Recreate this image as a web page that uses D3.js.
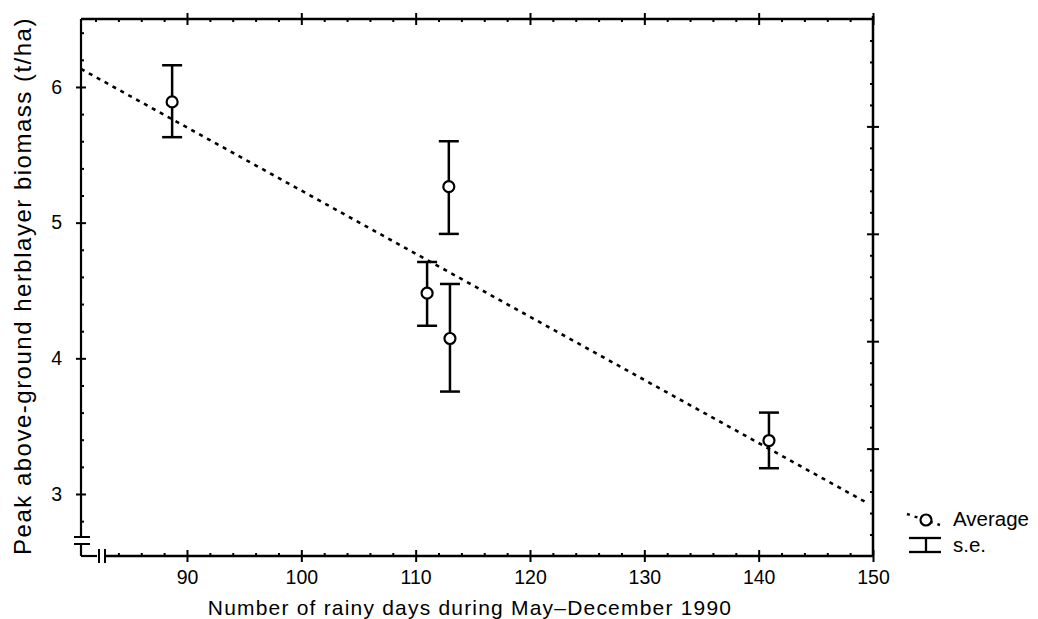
<!DOCTYPE html>
<html>
<head>
<meta charset="utf-8">
<script src="https://d3js.org/d3.v7.min.js"></script>
<style>
  body { margin: 0; background: #fff; }
  text { font-family: "Liberation Sans", Arial, sans-serif; fill: #000; }
</style>
</head>
<body>
<script>
// values
const rainyDays   = [88.7, 111.0, 112.9, 113.0, 140.9];
const biomassMean = [5.89, 4.48, 5.265, 4.146, 3.394];
const seUpper     = [6.16, 4.71, 5.60, 4.548, 3.60];
const seLower     = [5.63, 4.24, 4.917, 3.755, 3.19];
const fitDays     = [80.73, 149.3];
const fitBiomass  = [6.133, 2.943];
const xTicks = [90, 100, 110, 120, 130, 140, 150];
const yTicks = [3, 4, 5, 6];

const W = 1038, H = 619;
const pLeft = 81, pRight = 873, pTop = 19, pBottom = 556;

const svg = d3.select("body").append("svg")
    .attr("width", W).attr("height", H);

const x = d3.scaleLinear().domain([80.73, 150]).range([pLeft, pRight]);
const y = d3.scaleLinear().domain([2.543, 6.501]).range([pBottom, pTop]);
// unlabelled scale of the right-hand axis
const yR = d3.scaleLinear().domain([0, 5]).range([pBottom, pTop]);

const ink = "#000";

function seg(x1, y1, x2, y2, w) {
  return svg.append("line").attr("x1", x1).attr("y1", y1).attr("x2", x2).attr("y2", y2)
      .attr("stroke", ink).attr("stroke-width", w);
}

// frame lines
seg(pLeft, pTop, pRight, pTop, 2.5);
seg(pRight, pTop - 3, pRight, pBottom, 2.5);
// left axis, broken near the bottom
seg(pLeft, pTop, pLeft, pBottom - 19, 2.2);
seg(pLeft - 7, pBottom - 19, pLeft + 9, pBottom - 19, 2);
seg(pLeft - 7, pBottom - 12, pLeft + 9, pBottom - 12, 2);
seg(pLeft, pBottom - 12, pLeft, pBottom, 2.2);
// bottom axis, broken near the left
seg(pLeft, pBottom, pLeft + 16, pBottom, 2.2);
seg(pLeft + 18, pBottom - 7, pLeft + 18, pBottom + 7, 2);
seg(pLeft + 24, pBottom - 7, pLeft + 24, pBottom + 7, 2);
seg(pLeft + 24, pBottom, pRight, pBottom, 2.5);

function range2(a, b, s) { return d3.range(a, b + 1e-9, s).map(v => +v.toFixed(2)); }
const xMinorBottom = range2(84, 148, 2).filter(v => v % 10 !== 0);
const xMinorTop = range2(82, 148, 2).filter(v => v % 10 !== 0);
const yMinor = range2(2.8, 6.4, 0.2).filter(v => Math.abs(v - Math.round(v)) > 0.01);
const yRMinor = range2(0.2, 4.8, 0.2).filter(v => Math.abs(v - Math.round(v)) > 0.01);

function styleAxis(g, majorA, majorB, vertical) {
  g.select(".domain").remove();
  g.selectAll(".tick line").attr("stroke", ink).attr("stroke-width", 2);
  if (majorA !== null) {
    if (vertical) g.selectAll(".tick line").attr("x1", majorA).attr("x2", majorB);
    else g.selectAll(".tick line").attr("y1", majorA).attr("y2", majorB);
  }
}

// bottom axis
const gB = svg.append("g").attr("transform", `translate(0,${pBottom})`)
    .call(d3.axisBottom(x).tickValues(xTicks).tickSize(6).tickPadding(8).tickFormat(d3.format("d")));
styleAxis(gB, -6, 6, false);
gB.selectAll("text").attr("font-size", 19.5);
const gBm = svg.append("g").attr("transform", `translate(0,${pBottom})`)
    .call(d3.axisBottom(x).tickValues(xMinorBottom).tickSize(-3).tickFormat(""));
styleAxis(gBm, null, null, false);

// top axis
const gT = svg.append("g").attr("transform", `translate(0,${pTop})`)
    .call(d3.axisTop(x).tickValues(xTicks).tickFormat(""));
styleAxis(gT, -6, 6, false);
const gTm = svg.append("g").attr("transform", `translate(0,${pTop})`)
    .call(d3.axisTop(x).tickValues(xMinorTop).tickSize(-3).tickFormat(""));
styleAxis(gTm, null, null, false);

// left axis
const gL = svg.append("g").attr("transform", `translate(${pLeft},0)`)
    .call(d3.axisLeft(y).tickValues(yTicks).tickSize(5).tickPadding(14).tickFormat(d3.format("d")));
styleAxis(gL, -5, 5, true);
gL.selectAll("text").attr("font-size", 19.5);
const gLm = svg.append("g").attr("transform", `translate(${pLeft},0)`)
    .call(d3.axisLeft(y).tickValues(yMinor).tickSize(-3).tickFormat(""));
styleAxis(gLm, null, null, true);

// right axis (no labels)
const gR = svg.append("g").attr("transform", `translate(${pRight},0)`)
    .call(d3.axisRight(yR).tickValues([1, 2, 3, 4]).tickFormat(""));
styleAxis(gR, -6, 6, true);
const gRm = svg.append("g").attr("transform", `translate(${pRight},0)`)
    .call(d3.axisRight(yR).tickValues(yRMinor).tickSize(-3).tickFormat(""));
styleAxis(gRm, null, null, true);

// fitted line
const fit = fitDays.map((d, i) => [d, fitBiomass[i]]);
svg.append("path")
    .attr("d", d3.line().x(d => x(d[0])).y(d => y(d[1]))(fit))
    .attr("fill", "none").attr("stroke", ink)
    .attr("stroke-width", 2.6).attr("stroke-dasharray", "4 5");

// error bars and means
const pts = rainyDays.map((d, i) => ({ d, m: biomassMean[i], hi: seUpper[i], lo: seLower[i] }));
const gP = svg.append("g");
const cap = 10;
gP.selectAll("line.v").data(pts).join("line").attr("class", "v")
    .attr("x1", p => x(p.d)).attr("x2", p => x(p.d))
    .attr("y1", p => y(p.hi)).attr("y2", p => y(p.lo))
    .attr("stroke", ink).attr("stroke-width", 2.5);
gP.selectAll("line.hi").data(pts).join("line").attr("class", "hi")
    .attr("x1", p => x(p.d) - cap).attr("x2", p => x(p.d) + cap)
    .attr("y1", p => y(p.hi)).attr("y2", p => y(p.hi))
    .attr("stroke", ink).attr("stroke-width", 2.5);
gP.selectAll("line.lo").data(pts).join("line").attr("class", "lo")
    .attr("x1", p => x(p.d) - cap).attr("x2", p => x(p.d) + cap)
    .attr("y1", p => y(p.lo)).attr("y2", p => y(p.lo))
    .attr("stroke", ink).attr("stroke-width", 2.5);
gP.selectAll("circle").data(pts).join("circle")
    .attr("cx", p => x(p.d)).attr("cy", p => y(p.m)).attr("r", 5.5)
    .attr("fill", "#fff").attr("stroke", ink).attr("stroke-width", 2.2);

// axis titles
svg.append("text")
    .attr("x", 470).attr("y", 615)
    .attr("text-anchor", "middle").attr("font-size", 21).attr("letter-spacing", 1.2)
    .text("Number of rainy days during May\u2013December 1990");
svg.append("text")
    .attr("transform", "translate(31,286) rotate(-90)")
    .attr("text-anchor", "middle").attr("font-size", 24).attr("letter-spacing", 1.5)
    .text("Peak above-ground herblayer biomass (t/ha)");

// legend
seg(907, 514, 940, 525, 2.4).attr("stroke-dasharray", "3 5");
svg.append("circle").attr("cx", 926).attr("cy", 520).attr("r", 5.5)
    .attr("fill", "#fff").attr("stroke", ink).attr("stroke-width", 2.2);
svg.append("text").attr("x", 953).attr("y", 526).attr("font-size", 20.5).text("Average");
seg(909, 538, 941, 538, 2.3);
seg(909, 552, 941, 552, 2.3);
seg(926, 538, 926, 552, 2.3);
svg.append("text").attr("x", 953).attr("y", 552).attr("font-size", 20.5).text("s.e.");
</script>
</body>
</html>
